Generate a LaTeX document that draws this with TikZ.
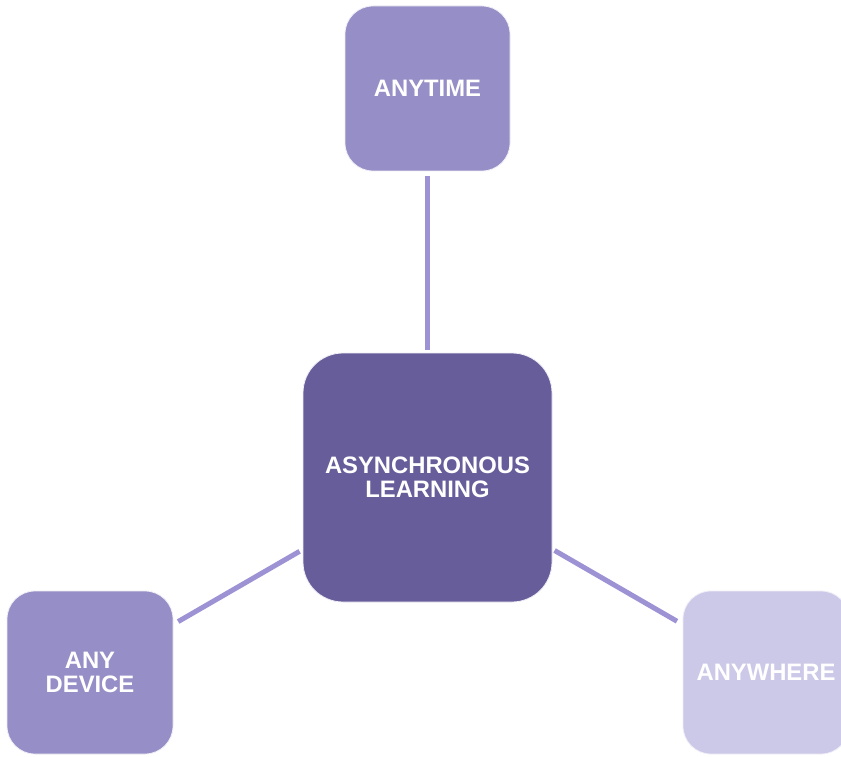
\documentclass[tikz,border=0pt]{standalone}
\usepackage{fontspec}
\setmainfont{Liberation Sans}
\definecolor{boxmid}{HTML}{968EC6}
\definecolor{boxdark}{HTML}{665D9A}
\definecolor{boxlight}{HTML}{CCC8E8}
\definecolor{linecol}{HTML}{9D93D4}
\tikzset{
  card/.style={rectangle, rounded corners=28pt, draw=white!85!boxmid, line width=0.8pt,
    text=white, align=center, inner sep=0pt,
    font=\bfseries\fontsize{23.8}{24}\selectfont},
  conn/.style={draw=linecol, line width=5pt}
}
\begin{document}
\begin{tikzpicture}[x=1pt,y=-1pt]
\clip (0,0) rectangle (841,757);
\fill[white] (0,0) rectangle (841,757);
\node[card, fill=boxmid, minimum width=165pt, minimum height=165pt] (top) at (427.5,88.5) {ANYTIME};
\node[card, fill=boxdark, rounded corners=40pt, minimum width=249pt, minimum height=249pt] (center) at (427.5,477.5) {ASYNCHRONOUS\\LEARNING};
\node[card, fill=boxmid, minimum width=166pt, minimum height=163pt] (left) at (90,672.5) {ANY\\DEVICE};
\node[card, fill=boxlight, minimum width=166pt, minimum height=163pt] (right) at (766,672.5) {ANYWHERE};
\draw[conn, shorten <=5pt, shorten >=3pt] (top) -- (center);
\draw[conn, shorten <=5.5pt, shorten >=3.5pt] (left) -- (center);
\draw[conn, shorten <=6.5pt, shorten >=2.5pt] (right) -- (center);
\end{tikzpicture}
\end{document}
